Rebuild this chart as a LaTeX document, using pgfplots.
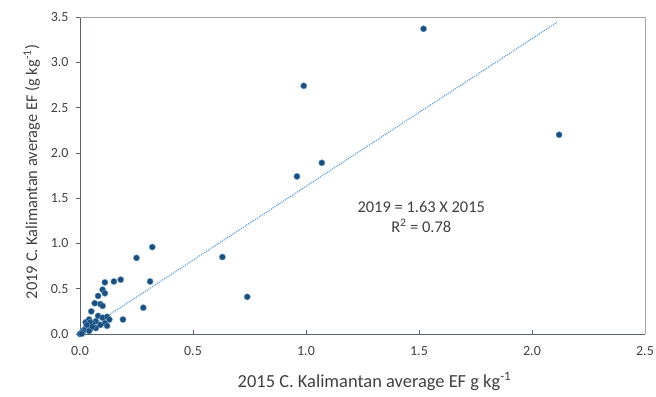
\documentclass[border=0pt]{standalone}
\usepackage{pgfplots}
\pgfplotsset{compat=1.18}
\usepackage{fontspec}
\setmainfont{Carlito}

\definecolor{ptfill}{HTML}{1F4E79}
\definecolor{ptedge}{HTML}{5B9BD5}
\definecolor{trend}{HTML}{5B9BD5}
\definecolor{axisdark}{HTML}{596270}
\definecolor{frame}{HTML}{A6A6A6}
\definecolor{txt}{HTML}{404040}

\begin{document}
\begin{tikzpicture}
\useasboundingbox (-80bp,-63bp) rectangle (576bp,334bp);
\begin{axis}[
  at={(0,0)}, anchor=south west,
  scale only axis,
  width=565bp, height=317bp,
  xmin=0, xmax=2.5, ymin=0, ymax=3.5,
  xtick={0,0.5,...,2.5},
  ytick={0,0.5,...,3.5},
  xticklabel style={/pgf/number format/.cd,fixed,fixed zerofill,precision=1},
  yticklabel style={/pgf/number format/.cd,fixed,fixed zerofill,precision=1},
  /pgf/number format/assume math mode=true,
  tick label style={font=\fontsize{14}{16}\selectfont, text=txt},
  axis line style={draw=frame},
  separate axis lines,
  x axis line style={draw=axisdark},
  y axis line style={draw=axisdark},
  axis x line*=bottom,
  axis y line*=left,
  x tick style={draw=axisdark, line width=0.6pt},
  y tick style={draw=axisdark, line width=0.6pt},
  xtick align=inside,
  ytick align=outside,
  major tick length=4bp,
  xticklabel shift=9bp,
  yticklabel shift=4bp,
  xlabel={2015 C. Kalimantan average EF g kg\textsuperscript{-1}},
  ylabel={2019 C. Kalimantan average EF (g kg\textsuperscript{-1})},
  label style={text=txt},
  xlabel style={font=\fontsize{18.5}{22}\selectfont, yshift=-10bp, xshift=12bp},
  ylabel style={font=\fontsize{16.5}{20}\selectfont, at={(ticklabel cs:0.511)}, yshift=4bp},
  clip=false,
]
% plot frame on top and right
\draw[frame, line width=0.6pt] (axis cs:0,3.5) -- (axis cs:2.5,3.5) -- (axis cs:2.5,0);

% linear fit through origin
\addplot[trend, densely dotted, line width=1.1pt] coordinates {(0,0) (2.11,3.44)};

\addplot[only marks, mark=*, mark size=3.1bp,
  mark options={fill=ptfill, draw=ptedge, line width=0.4pt}] coordinates {
(1.52,3.37) (0.99,2.74) (2.12,2.20) (1.07,1.89) (0.96,1.74)
(0.63,0.85) (0.32,0.96) (0.25,0.84) (0.74,0.41) (0.31,0.58)
(0.28,0.29) (0.19,0.16) (0.18,0.60) (0.15,0.58) (0.11,0.57)
(0.10,0.49) (0.11,0.45) (0.08,0.42) (0.065,0.34) (0.09,0.33)
(0.10,0.31) (0.05,0.25) (0.08,0.20) (0.10,0.18) (0.12,0.19)
(0.13,0.16) (0.11,0.12) (0.12,0.09) (0.07,0.14) (0.055,0.12)
(0.025,0.13) (0.04,0.16) (0.044,0.13) (0.07,0.065) (0.047,0.06)
(0.032,0.075) (0.054,0.08) (0.022,0.055) (0.018,0.044) (0.04,0.033)
(0.012,0.025) (0.003,0.008) (0.0,0.0) (0.008,0.003) (0.09,0.10)
(0.03,0.10)
};

\node[font=\fontsize{16.5}{20}\selectfont, text=txt, align=center]
  at (axis cs:1.51,1.29) {2019 = 1.63 X 2015\\R\textsuperscript{2} = 0.78};
\end{axis}
\end{tikzpicture}
\end{document}
